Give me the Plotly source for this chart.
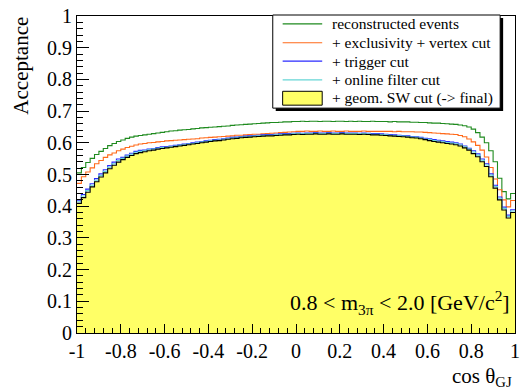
import plotly.graph_objects as go

# 100 bins of cos(theta_GJ) from -1 to 1
bin_edges = [round(-1 + 0.02 * k, 2) for k in range(101)]

reconstructed = [
    0.505, 0.522, 0.538, 0.551, 0.563, 0.573, 0.582, 0.591, 0.598, 0.604,
    0.609, 0.614, 0.618, 0.621, 0.623, 0.625, 0.627, 0.629, 0.631, 0.633,
    0.635, 0.637, 0.638, 0.640, 0.641, 0.642, 0.644, 0.645, 0.647, 0.648,
    0.649, 0.650, 0.651, 0.652, 0.653, 0.655, 0.656, 0.657, 0.658, 0.659,
    0.660, 0.661, 0.662, 0.663, 0.664, 0.664, 0.665, 0.666, 0.666, 0.667,
    0.667, 0.668, 0.667, 0.668, 0.668, 0.667, 0.668, 0.668, 0.667, 0.668,
    0.668, 0.667, 0.668, 0.667, 0.668, 0.667, 0.667, 0.668, 0.667, 0.667,
    0.667, 0.666, 0.667, 0.666, 0.666, 0.666, 0.665, 0.665, 0.664, 0.664,
    0.663, 0.662, 0.662, 0.661, 0.660, 0.659, 0.658, 0.656, 0.654, 0.650,
    0.643, 0.632, 0.618, 0.600, 0.575, 0.540, 0.488, 0.446, 0.423, 0.440]

exclusivity = [
    0.472, 0.493, 0.508, 0.521, 0.534, 0.544, 0.554, 0.562, 0.568, 0.575,
    0.580, 0.585, 0.589, 0.593, 0.596, 0.598, 0.600, 0.601, 0.603, 0.604,
    0.606, 0.607, 0.608, 0.609, 0.610, 0.611, 0.612, 0.613, 0.615, 0.616,
    0.617, 0.618, 0.619, 0.620, 0.621, 0.622, 0.624, 0.624, 0.625, 0.626,
    0.627, 0.627, 0.628, 0.629, 0.630, 0.631, 0.632, 0.633, 0.634, 0.635,
    0.636, 0.636, 0.637, 0.636, 0.636, 0.637, 0.636, 0.636, 0.637, 0.636,
    0.636, 0.637, 0.636, 0.636, 0.636, 0.637, 0.636, 0.636, 0.636, 0.636,
    0.636, 0.636, 0.635, 0.636, 0.635, 0.635, 0.635, 0.634, 0.634, 0.633,
    0.632, 0.631, 0.630, 0.629, 0.628, 0.627, 0.626, 0.623, 0.619, 0.612,
    0.603, 0.592, 0.577, 0.555, 0.522, 0.486, 0.452, 0.420, 0.398, 0.418]

trigger = [
    0.419, 0.437, 0.454, 0.471, 0.487, 0.502, 0.515, 0.528, 0.539, 0.549,
    0.554, 0.561, 0.567, 0.573, 0.576, 0.577, 0.580, 0.582, 0.585, 0.587,
    0.588, 0.590, 0.592, 0.594, 0.596, 0.598, 0.600, 0.602, 0.604, 0.606,
    0.608, 0.610, 0.611, 0.613, 0.615, 0.617, 0.618, 0.620, 0.621, 0.622,
    0.623, 0.624, 0.625, 0.626, 0.626, 0.627, 0.628, 0.629, 0.629, 0.630,
    0.631, 0.630, 0.631, 0.631, 0.632, 0.631, 0.631, 0.632, 0.631, 0.631,
    0.632, 0.631, 0.631, 0.631, 0.630, 0.631, 0.630, 0.629, 0.629, 0.628,
    0.627, 0.626, 0.625, 0.624, 0.623, 0.622, 0.620, 0.619, 0.617, 0.614,
    0.613, 0.610, 0.608, 0.606, 0.604, 0.602, 0.600, 0.596, 0.590, 0.583,
    0.575, 0.565, 0.549, 0.534, 0.502, 0.466, 0.429, 0.397, 0.372, 0.389]

online_filter = [
    0.414, 0.432, 0.449, 0.466, 0.482, 0.497, 0.510, 0.523, 0.534, 0.544,
    0.551, 0.558, 0.564, 0.570, 0.573, 0.575, 0.578, 0.580, 0.583, 0.585,
    0.586, 0.588, 0.590, 0.592, 0.594, 0.596, 0.598, 0.600, 0.602, 0.604,
    0.606, 0.608, 0.609, 0.611, 0.613, 0.615, 0.616, 0.618, 0.619, 0.620,
    0.621, 0.622, 0.623, 0.624, 0.624, 0.625, 0.626, 0.627, 0.627, 0.628,
    0.629, 0.628, 0.629, 0.629, 0.630, 0.629, 0.629, 0.630, 0.629, 0.629,
    0.630, 0.629, 0.629, 0.629, 0.628, 0.629, 0.628, 0.627, 0.627, 0.626,
    0.625, 0.624, 0.623, 0.622, 0.621, 0.620, 0.618, 0.617, 0.615, 0.612,
    0.610, 0.607, 0.605, 0.603, 0.601, 0.599, 0.597, 0.593, 0.587, 0.580,
    0.571, 0.561, 0.545, 0.530, 0.498, 0.462, 0.425, 0.393, 0.368, 0.385]

final = [
    0.409, 0.427, 0.444, 0.461, 0.477, 0.492, 0.505, 0.518, 0.529, 0.539,
    0.547, 0.554, 0.560, 0.566, 0.569, 0.572, 0.575, 0.577, 0.580, 0.582,
    0.584, 0.586, 0.588, 0.590, 0.592, 0.594, 0.596, 0.598, 0.600, 0.602,
    0.604, 0.606, 0.607, 0.609, 0.611, 0.613, 0.614, 0.616, 0.617, 0.618,
    0.619, 0.620, 0.621, 0.622, 0.622, 0.623, 0.624, 0.625, 0.625, 0.626,
    0.627, 0.626, 0.627, 0.627, 0.628, 0.627, 0.627, 0.628, 0.627, 0.627,
    0.628, 0.627, 0.627, 0.627, 0.626, 0.627, 0.626, 0.625, 0.625, 0.624,
    0.623, 0.622, 0.621, 0.620, 0.619, 0.618, 0.616, 0.615, 0.613, 0.610,
    0.607, 0.604, 0.602, 0.600, 0.598, 0.596, 0.594, 0.590, 0.584, 0.577,
    0.566, 0.556, 0.540, 0.525, 0.493, 0.457, 0.420, 0.388, 0.363, 0.380]

series_names = ["reconstructed events", "+ exclusivity + vertex cut",
                "+ trigger cut", "+ online filter cut"]
series_values = [reconstructed, exclusivity, trigger, online_filter]
series_colors = ["#1e8a1e", "#ff6a1a", "#2a2aff", "#66d6d6"]
final_name = "+ geom. SW cut (-> final)"
FILL = "#ffff66"

x_tick_vals = [-1, -0.8, -0.6, -0.4, -0.2, 0, 0.2, 0.4, 0.6, 0.8, 1]
x_tick_text = ["-1", "-0.8", "-0.6", "-0.4", "-0.2", "0", "0.2", "0.4", "0.6", "0.8", "1"]
y_tick_vals = [0, 0.1, 0.2, 0.3, 0.4, 0.5, 0.6, 0.7, 0.8, 0.9, 1]
y_tick_text = ["0", "0.1", "0.2", "0.3", "0.4", "0.5", "0.6", "0.7", "0.8", "0.9", "1"]

FONT = "Liberation Serif"

# plot area in pixels (for laying out the hand-drawn ROOT-style legend)
L, R, T, B = 77, 520, 13, 333
def px(x):
    return (x - L) / (R - L)
def py(y):
    return (B - y) / (B - T)

def step(vals):
    return bin_edges, list(vals) + [vals[-1]]

fig = go.Figure()

for name, vals, color in zip(series_names, series_values, series_colors):
    xs, ys = step(vals)
    fig.add_trace(go.Scatter(x=xs, y=ys, mode="lines", line_shape="hv",
                             line=dict(color=color, width=1.1), name=name))

xs, ys = step(final)
fig.add_trace(go.Scatter(x=xs, y=ys, mode="lines", line_shape="hv",
                         line=dict(color="black", width=1.1),
                         fill="tozeroy", fillcolor=FILL, name=final_name))

# ROOT-style legend box with shadow
box_l, box_r, box_t, box_b, shadow = 275, 505, 12, 106, 3
fig.add_shape(type="rect", xref="paper", yref="paper",
              x0=px(box_l + shadow), x1=px(box_r + shadow),
              y0=py(box_b + shadow), y1=py(box_t + shadow),
              fillcolor="black", line=dict(width=0), layer="above")
fig.add_shape(type="rect", xref="paper", yref="paper",
              x0=px(box_l), x1=px(box_r), y0=py(box_b), y1=py(box_t),
              fillcolor="white", line=dict(color="black", width=1), layer="above")

entry_y = [21, 40, 58.5, 77.5, 96]
for (name, color), yy in zip(zip(series_names, series_colors), entry_y[:4]):
    fig.add_shape(type="line", xref="paper", yref="paper",
                  x0=px(285), x1=px(325), y0=py(yy), y1=py(yy),
                  line=dict(color=color, width=1.2), layer="above")
    fig.add_annotation(xref="paper", yref="paper", x=px(333), y=py(yy),
                       xanchor="left", yanchor="middle", showarrow=False,
                       text=name, font=dict(family=FONT, size=15.5, color="black"))
fig.add_shape(type="rect", xref="paper", yref="paper",
              x0=px(285), x1=px(325), y0=py(entry_y[4] + 7), y1=py(entry_y[4] - 7),
              fillcolor=FILL, line=dict(color="black", width=1), layer="above")
fig.add_annotation(xref="paper", yref="paper", x=px(333), y=py(entry_y[4]),
                   xanchor="left", yanchor="middle", showarrow=False,
                   text=final_name, font=dict(family=FONT, size=15.5, color="black"))

fig.add_annotation(xref="paper", yref="paper", x=px(517), y=py(302),
                   xanchor="right", yanchor="middle", showarrow=False,
                   text="0.8 < m<sub>3π</sub> < 2.0 [GeV/c<sup>2</sup>]",
                   font=dict(family=FONT, size=22, color="black"))
fig.add_annotation(xref="paper", yref="paper", x=px(519), y=py(377),
                   xanchor="right", yanchor="middle", showarrow=False,
                   text="cos θ<sub>GJ</sub>",
                   font=dict(family=FONT, size=21, color="black"))
fig.add_annotation(xref="paper", yref="paper", x=px(20), y=py(12),
                   xanchor="center", yanchor="top", showarrow=False,
                   textangle=-90, text="Acceptance",
                   font=dict(family=FONT, size=21, color="black"))

axis_common = dict(showgrid=False, zeroline=False, showline=True,
                   linecolor="black", linewidth=1, mirror=True,
                   ticks="inside", tickcolor="black", tickwidth=1,
                   tickfont=dict(family=FONT, size=20, color="black"))

fig.update_layout(
    width=525, height=391,
    margin=dict(l=L, r=525 - R, t=T, b=391 - B),
    paper_bgcolor="white", plot_bgcolor="white",
    font=dict(family=FONT, color="black"),
    xaxis=dict(range=[-1, 1], tickvals=x_tick_vals, ticktext=x_tick_text,
               ticklen=9, minor=dict(dtick=0.04, tick0=-1, ticks="inside", ticklen=5,
                                     tickcolor="black"),
               **axis_common),
    yaxis=dict(range=[0, 1], tickvals=y_tick_vals, ticktext=y_tick_text,
               ticklen=12, minor=dict(dtick=0.02, tick0=0, ticks="inside", ticklen=6,
                                      tickcolor="black"),
               **axis_common),
    showlegend=False,
    hovermode=False,
)

fig.write_html("out.html", config={"displayModeBar": False},
               post_script="document.body.style.margin='0';document.body.style.overflow='hidden';")
